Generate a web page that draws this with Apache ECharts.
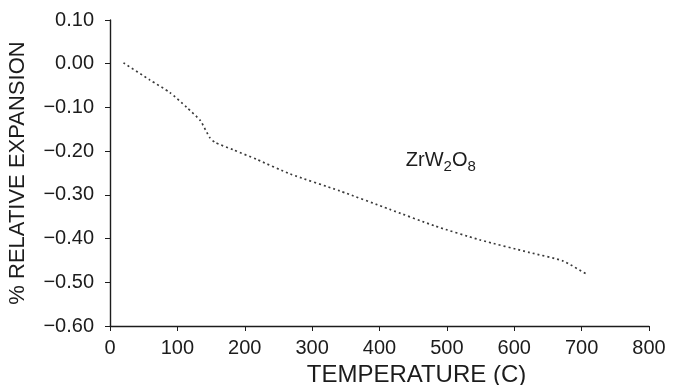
<!DOCTYPE html>
<html><head><meta charset="utf-8">
<script src="https://cdn.jsdelivr.net/npm/echarts@6/dist/echarts.min.js"></script>
<style>html,body{margin:0;padding:0;background:#fff}#c{width:676px;height:385px}</style>
</head><body><div id="c"></div>
<script>
const temperature = [20, 59, 89, 114, 134, 148, 156, 183, 218, 267, 341, 415, 482, 549, 623, 672, 709];
const expansion = [0.002, -0.037, -0.066, -0.100, -0.130, -0.169, -0.180, -0.197, -0.219, -0.252, -0.291, -0.333, -0.371, -0.403, -0.432, -0.451, -0.483];
const yTicks = [0.10, 0.00, -0.10, -0.20, -0.30, -0.40, -0.50, -0.60];
const xTicks = [0, 100, 200, 300, 400, 500, 600, 700, 800];
const compoundLabel = {text: 'ZrW{s|2}O{s|8}', x: 491, y: -0.222};

const font = '"Liberation Sans", Arial, sans-serif';
const ink = '#1c1c1c';
const chart = echarts.init(document.getElementById('c'));
chart.setOption({
  animation: false,
  backgroundColor: '#fff',
  grid: {left: 110, right: 27, top: 20, bottom: 59, containLabel: false, outerBoundsMode: 'none'},
  xAxis: {
    type: 'value', min: xTicks[0], max: xTicks[xTicks.length-1], interval: 100,
    name: 'TEMPERATURE (C)', nameLocation: 'middle', nameGap: 32,
    nameTextStyle: {fontFamily: font, fontSize: 24, color: ink, padding: [0, 0, 0, 74]},
    axisLine: {onZero: false, lineStyle: {color: ink, width: 1.4}},
    axisTick: {length: 5, lineStyle: {color: ink}},
    axisLabel: {fontFamily: font, fontSize: 20, color: ink, margin: 12},
    splitLine: {show: false}
  },
  yAxis: {
    type: 'value', min: yTicks[yTicks.length-1], max: yTicks[0], interval: 0.1,
    name: '% RELATIVE EXPANSION', nameLocation: 'middle', nameGap: 81,
    nameTextStyle: {fontFamily: font, fontSize: 22, color: ink},
    axisLine: {show: true, onZero: false, lineStyle: {color: ink, width: 1.4}},
    axisTick: {show: true, length: 5, lineStyle: {color: ink}},
    axisLabel: {fontFamily: font, fontSize: 20, color: ink, margin: 16,
      formatter: v => (v < -1e-9 ? '\u2212' : '') + Math.abs(v).toFixed(2)},
    splitLine: {show: false}
  },
  series: [{
    type: 'line', showSymbol: false, smooth: 0.2,
    data: temperature.map((t, i) => [t, expansion[i]]),
    lineStyle: {color: '#3a3a3a', width: 1.7, type: [2, 3]},
    markPoint: {
      symbol: 'rect', symbolSize: 1, itemStyle: {color: 'transparent'},
      data: [{coord: [compoundLabel.x, compoundLabel.y],
        label: {show: true, position: 'inside', fontFamily: font, color: ink,
          formatter: compoundLabel.text,
          rich: {s: {fontSize: 15, padding: [12, 0, 0, 0], fontFamily: font, color: ink}},
          fontSize: 20}}]
    }
  }]
});
</script></body></html>
